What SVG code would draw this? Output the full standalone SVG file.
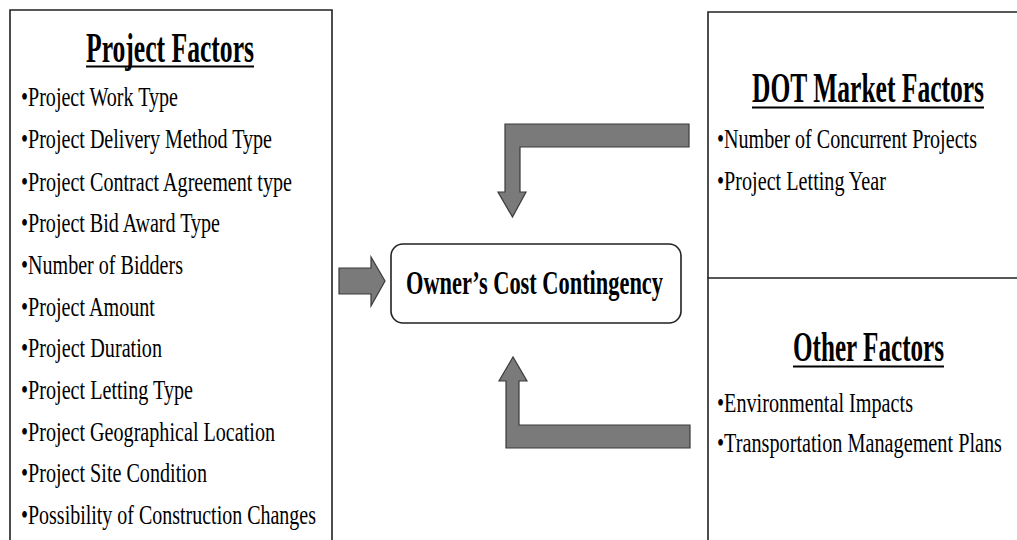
<svg xmlns="http://www.w3.org/2000/svg" width="1017" height="540" viewBox="0 0 1017 540">
<style>
.frame{fill:none;stroke:#222;stroke-width:1.6}
.box{fill:#fff;stroke:#222;stroke-width:1.6}
.title{font-family:"Liberation Serif","Times New Roman",serif;font-weight:bold;font-size:43px;fill:#000}
.item{font-family:"Liberation Serif","Times New Roman",serif;font-size:28px;fill:#000}
.center{font-family:"Liberation Serif","Times New Roman",serif;font-weight:bold;font-size:34px;fill:#000}
.ul{stroke:#000;stroke-width:2}
.arrow{fill:#7a7a7a;stroke:#3a3a3a;stroke-width:1.2}
</style>
<rect width="1017" height="540" fill="#fff"/>
<g id="project-factors">
<path class="frame" d="M10,540 V10 H332 V540"/>
<text class="title" transform="translate(86,62) scale(0.6,1)" textLength="280" lengthAdjust="spacingAndGlyphs">Project Factors</text>
<line class="ul" x1="86" y1="66.5" x2="254" y2="66.5"/>
<text class="item" transform="translate(21,106) scale(0.7,1)" textLength="224.3" lengthAdjust="spacingAndGlyphs">•Project Work Type</text>
<text class="item" transform="translate(21,148) scale(0.7,1)" textLength="358.6" lengthAdjust="spacingAndGlyphs">•Project Delivery Method Type</text>
<text class="item" transform="translate(21,191) scale(0.7,1)" textLength="387.1" lengthAdjust="spacingAndGlyphs">•Project Contract Agreement type</text>
<text class="item" transform="translate(21,232) scale(0.7,1)" textLength="284.3" lengthAdjust="spacingAndGlyphs">•Project Bid Award Type</text>
<text class="item" transform="translate(21,274) scale(0.7,1)" textLength="231.4" lengthAdjust="spacingAndGlyphs">•Number of Bidders</text>
<text class="item" transform="translate(21,316) scale(0.7,1)" textLength="191.4" lengthAdjust="spacingAndGlyphs">•Project Amount</text>
<text class="item" transform="translate(21,357) scale(0.7,1)" textLength="201.4" lengthAdjust="spacingAndGlyphs">•Project Duration</text>
<text class="item" transform="translate(21,399) scale(0.7,1)" textLength="245.7" lengthAdjust="spacingAndGlyphs">•Project Letting Type</text>
<text class="item" transform="translate(21,441) scale(0.7,1)" textLength="362.9" lengthAdjust="spacingAndGlyphs">•Project Geographical Location</text>
<text class="item" transform="translate(21,482) scale(0.7,1)" textLength="265.7" lengthAdjust="spacingAndGlyphs">•Project Site Condition</text>
<text class="item" transform="translate(21,524) scale(0.7,1)" textLength="421.4" lengthAdjust="spacingAndGlyphs">•Possibility of Construction Changes</text>
</g>
<g id="dot-market-factors">
<path class="frame" d="M1017,12 H708 V278"/>
<text class="title" transform="translate(752,102) scale(0.6,1)" textLength="386.7" lengthAdjust="spacingAndGlyphs">DOT Market Factors</text>
<line class="ul" x1="752" y1="107.5" x2="984" y2="107.5"/>
<text class="item" transform="translate(717,148) scale(0.7,1)" textLength="371.4" lengthAdjust="spacingAndGlyphs">•Number of Concurrent Projects</text>
<text class="item" transform="translate(717,190) scale(0.7,1)" textLength="241.4" lengthAdjust="spacingAndGlyphs">•Project Letting Year</text>
</g>
<g id="other-factors">
<path class="frame" d="M1017,278 H708 V540"/>
<text class="title" transform="translate(793,361) scale(0.6,1)" textLength="251.7" lengthAdjust="spacingAndGlyphs">Other Factors</text>
<line class="ul" x1="793" y1="366.5" x2="944" y2="366.5"/>
<text class="item" transform="translate(717,412) scale(0.7,1)" textLength="280" lengthAdjust="spacingAndGlyphs">•Environmental Impacts</text>
<text class="item" transform="translate(717,452) scale(0.7,1)" textLength="407.1" lengthAdjust="spacingAndGlyphs">•Transportation Management Plans</text>
</g>
<g id="owners-cost-contingency">
<rect class="box" x="391" y="244" width="290" height="79" rx="12" ry="12"/>
<text class="center" transform="translate(406,294) scale(0.65,1)" textLength="395.4" lengthAdjust="spacingAndGlyphs">Owner’s Cost Contingency</text>
</g>
<g id="connectors">
<polygon class="arrow" points="339,268 371,268 371,257 385,281 371,306 371,294 339,294"/>
<polygon class="arrow" points="689,124 505,124 505,192 498,192 512.5,217 526,192 520,192 520,147 689,147"/>
<polygon class="arrow" points="690,448 506,448 506,381 499,381 513,357 527,381 519,381 519,425 690,425"/>
</g>
</svg>
